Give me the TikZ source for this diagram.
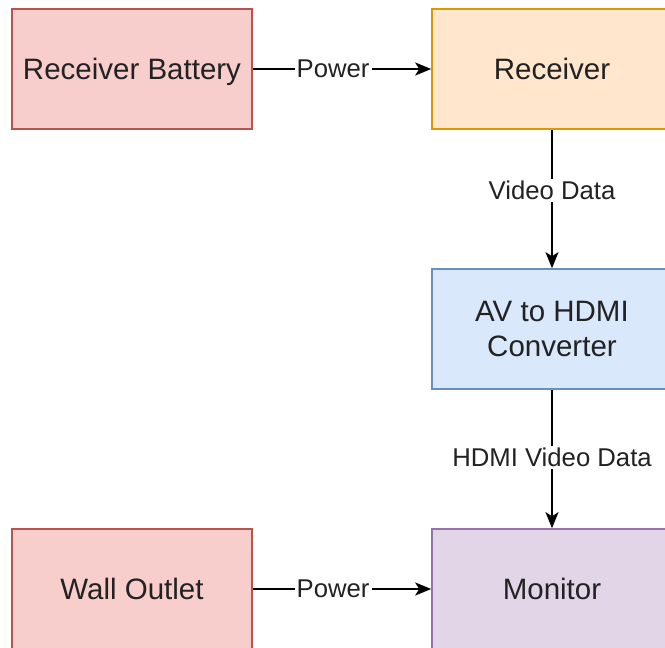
\documentclass[tikz,border=0pt]{standalone}
\usepackage{fontspec}
\setmainfont{Liberation Sans}
\usetikzlibrary{arrows.meta}
\definecolor{redfill}{HTML}{F8CECC}\definecolor{redline}{HTML}{B85450}
\definecolor{orfill}{HTML}{FFE6CC}\definecolor{orline}{HTML}{D79B00}
\definecolor{blfill}{HTML}{DAE8FC}\definecolor{blline}{HTML}{6C8EBF}
\definecolor{pufill}{HTML}{E1D5E7}\definecolor{puline}{HTML}{9673A6}
\definecolor{txt}{HTML}{222222}
\tikzset{
  box/.style={draw, line width=1.6pt, minimum width=240pt, minimum height=120pt, inner sep=0pt,
    align=center, text depth=0pt, text=txt, font=\fontsize{29.5}{35}\selectfont},
  conn/.style={line width=2pt, -{Stealth[length=16pt,width=13pt,inset=4pt]}, color=black},
  lbl/.style={fill=white, inner sep=2pt, text=txt, font=\fontsize{25.7}{30}\selectfont}
}
\begin{document}
\begin{tikzpicture}[x=1pt,y=-1pt]
\useasboundingbox (0,0) rectangle (665,648);
\clip (0,0) rectangle (665,648);
\node[box, fill=redfill, draw=redline] (bat) at (132,69) {Receiver Battery};
\node[box, fill=orfill, draw=orline] (rec) at (552,69) {Receiver};
\node[box, fill=blfill, draw=blline] (conv) at (552,329) {AV to HDMI\\Converter};
\node[box, fill=redfill, draw=redline] (wall) at (132,589) {Wall Outlet};
\node[box, fill=pufill, draw=puline] (mon) at (552,589) {Monitor};
\draw[conn] (bat) -- node[lbl, pos=0.45] {Power} (rec);
\draw[conn] (rec) -- node[lbl, pos=0.436] {Video Data} (conv);
\draw[conn] (conv) -- node[lbl, pos=0.486] {HDMI Video Data} (mon);
\draw[conn] (wall) -- node[lbl, pos=0.45] {Power} (mon);
\end{tikzpicture}
\end{document}
